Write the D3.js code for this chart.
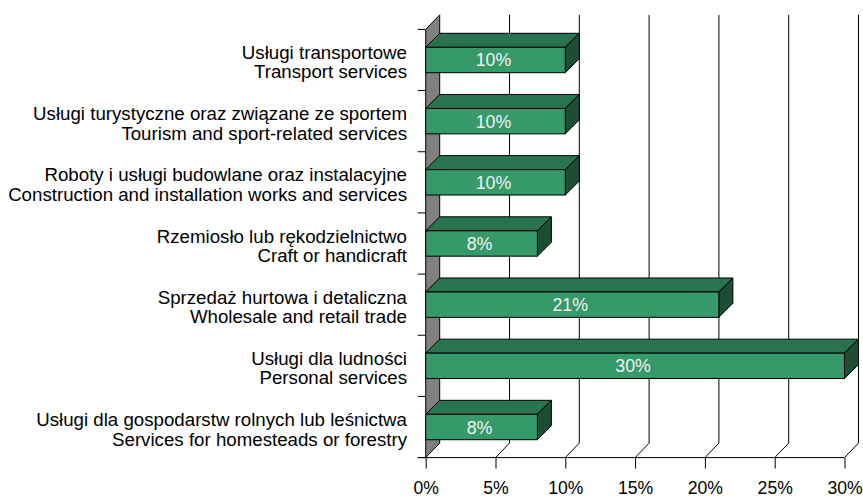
<!DOCTYPE html>
<html><head><meta charset="utf-8">
<script src="https://cdn.jsdelivr.net/npm/d3@7"></script>
<style>body{margin:0;background:#fff}svg{display:block}text{font-family:"Liberation Sans",Arial,sans-serif}</style>
</head><body><svg id="c" width="863" height="497"></svg>
<script>
const labelsPL = ["Usługi transportowe","Usługi turystyczne oraz związane ze sportem","Roboty i usługi budowlane oraz instalacyjne","Rzemiosło lub rękodzielnictwo","Sprzedaż hurtowa i detaliczna","Usługi dla ludności","Usługi dla gospodarstw rolnych lub leśnictwa"];
const labelsEN = ["Transport services","Tourism and sport-related services","Construction and installation works and services","Craft or handicraft","Wholesale and retail trade","Personal services","Services for homesteads or forestry"];
const values = [10,10,10,8,21,30,8];
const tickValues = [0,5,10,15,20,25,30];

(function(){
const svg = d3.select("#c");
const x = d3.scaleLinear().domain([0,30]).range([425.7,844.5]);
const idx = d3.range(values.length);
const yTop = 29.4, yBot = 457.6;
const y = d3.scaleBand().domain(idx).range([yTop,yBot]).paddingInner(0.585).paddingOuter(0.2925);
const DX = 14, DY = 14.5;

// wall
svg.append("path")
  .attr("d", `M${x(0)},${yBot}L${x(0)},${yTop}L${x(0)+DX},${yTop-DY}L${x(0)+DX},${yBot-DY}Z`)
  .attr("fill","#808080").attr("stroke","#000").attr("stroke-width",1);

// gridlines
svg.append("g").selectAll("path").data(tickValues.slice(1)).join("path")
  .attr("d", d => `M${x(d)+DX},${yTop-DY}L${x(d)+DX},${yBot-DY}L${x(d)},${yBot}`)
  .attr("fill","none").attr("stroke","#000").attr("stroke-width",1);

// baseline
svg.append("line").attr("x1",x(0)-8).attr("x2",x(30)).attr("y1",yBot).attr("y2",yBot)
  .attr("stroke","#000");

// bottom axis
const xa = svg.append("g").attr("transform",`translate(0,${yBot})`)
  .call(d3.axisBottom(x).tickValues(tickValues).tickFormat(d=>d+"%").tickSize(11));
xa.select(".domain").remove();
xa.selectAll("line").attr("stroke","#000");
xa.selectAll("text").attr("font-size","17.6px").attr("fill","#000").attr("dy",null)
  .attr("y",36);

// left ticks
svg.append("g").selectAll("line").data(d3.range(values.length+1)).join("line")
  .attr("x1",x(0)-8).attr("x2",x(0))
  .attr("y1",i=>yTop+i*y.step()).attr("y2",i=>yTop+i*y.step())
  .attr("stroke","#000");

// bars
const bars = svg.append("g").selectAll("g").data(idx).join("g");
bars.append("path").attr("d", i => {
  const x0=x(0), x1=x(values[i]), y0=y(i);
  return `M${x0},${y0}L${x0+DX},${y0-DX}L${x1+DX},${y0-DX}L${x1},${y0}Z`;
}).attr("fill","#2a7350").attr("stroke","#000");
bars.append("path").attr("d", i => {
  const x1=x(values[i]), y0=y(i), y1=y(i)+y.bandwidth();
  return `M${x1},${y0}L${x1+DX},${y0-DX}L${x1+DX},${y1-DX}L${x1},${y1}Z`;
}).attr("fill","#1d4e35").attr("stroke","#000");
bars.append("rect").attr("x",x(0)).attr("y",i=>y(i))
  .attr("width",i=>x(values[i])-x(0)).attr("height",y.bandwidth())
  .attr("fill","#35996a").attr("stroke","#000");
bars.append("text").attr("x",i=>(x(0)+x(values[i]))/2-2).attr("y",i=>y(i)+y.bandwidth()/2+6.5)
  .attr("text-anchor","middle").attr("font-size","17.8px").attr("fill","#f2f2f2")
  .text(i=>values[i]+"%");

// category labels
const lab = svg.append("g").selectAll("text").data(idx).join("text")
  .attr("text-anchor","end").attr("font-size","18.7px").attr("fill","#000");
lab.append("tspan").attr("x",407).attr("y",i=>y(i)+y.bandwidth()/2-1).text(i=>labelsPL[i]);
lab.append("tspan").attr("x",407).attr("y",i=>y(i)+y.bandwidth()/2+18.5).text(i=>labelsEN[i]);
})();
</script></body></html>
